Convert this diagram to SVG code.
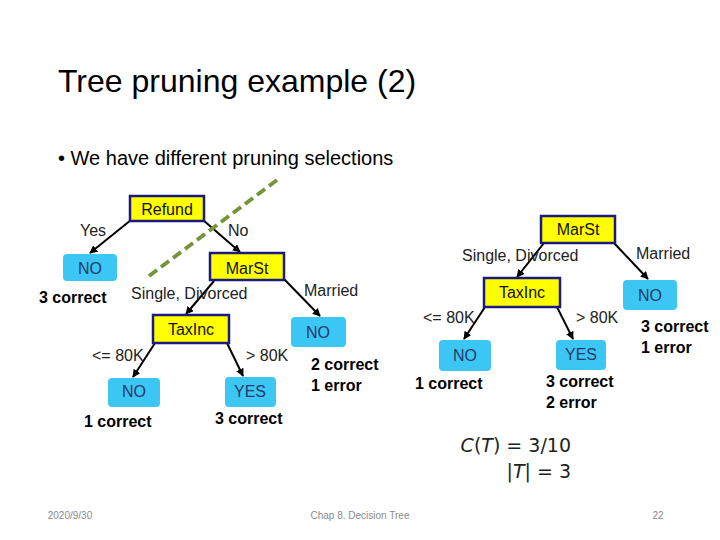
<svg xmlns="http://www.w3.org/2000/svg" width="720" height="540" viewBox="0 0 720 540">
<defs>
<marker id="ah" viewBox="0 0 10 10" refX="9" refY="5" markerWidth="4" markerHeight="4" orient="auto" markerUnits="strokeWidth">
<path d="M0,0 L10,5 L0,10 z" fill="#000"/>
</marker>
<style>
text{font-family:"Liberation Sans",Arial,sans-serif;}
.dec{fill:#FFFF00;stroke:#1A1A80;stroke-width:2.5;}
.leaf{fill:#3CC6F4;stroke:none;}
.nt{font-size:16px;fill:#111;text-anchor:middle;}
.lt{font-size:16px;fill:#233a66;text-anchor:middle;}
.el{font-size:16px;fill:#222;}
.cnt{font-size:16px;font-weight:bold;fill:#000;}
.edge{stroke:#000;stroke-width:2;fill:none;marker-end:url(#ah);}
.foot{font-size:10px;fill:#8a8a8a;}
.math{font-family:"DejaVu Sans","Liberation Sans",sans-serif;font-size:19px;fill:#222;}
</style>
</defs>
<rect width="720" height="540" fill="#fff"/>
<text x="58" y="92" font-size="32" fill="#000">Tree pruning example (2)</text>
<text x="58" y="165" font-size="20" fill="#000">• We have different pruning selections</text>

<g id="connectors">
<line class="edge" x1="131" y1="220" x2="90" y2="253"/>
<line class="edge" x1="203" y1="220" x2="240" y2="252"/>
<line class="edge" x1="214" y1="281" x2="186" y2="314"/>
<line class="edge" x1="284" y1="279" x2="320" y2="316"/>
<line class="edge" x1="155" y1="343" x2="133" y2="377"/>
<line class="edge" x1="227" y1="343" x2="243" y2="376"/>
<line class="edge" x1="544" y1="243" x2="517" y2="277"/>
<line class="edge" x1="614" y1="243" x2="648" y2="279"/>
<line class="edge" x1="485" y1="307" x2="464" y2="339"/>
<line class="edge" x1="557" y1="307" x2="573" y2="339"/>
<line x1="149" y1="276" x2="277" y2="180" stroke="#77933C" stroke-width="4" stroke-dasharray="10,5"/>
</g>

<g id="edge-labels">
<text class="el" x="80" y="236">Yes</text>
<text class="el" x="228" y="236">No</text>
<text class="el" x="131" y="299">Single, Divorced</text>
<text class="el" x="304" y="296">Married</text>
<text class="el" x="92" y="361">&lt;= 80K</text>
<text class="el" x="246" y="361">&gt; 80K</text>
<text class="el" x="462" y="261">Single, Divorced</text>
<text class="el" x="636" y="259">Married</text>
<text class="el" x="423" y="323">&lt;= 80K</text>
<text class="el" x="576" y="323">&gt; 80K</text>
</g>

<g id="refund"><rect class="dec" x="130" y="196" width="74" height="25"/><text class="nt" x="167" y="215">Refund</text></g>
<g id="leaf-no-1"><rect class="leaf" x="63" y="254" width="54" height="27" rx="4"/><text class="lt" x="90" y="274">NO</text></g>
<g id="marst-1"><rect class="dec" x="210" y="253" width="74" height="27"/><text class="nt" x="247" y="274">MarSt</text></g>
<g id="taxinc-1"><rect class="dec" x="153" y="315" width="76" height="28"/><text class="nt" x="191" y="335">TaxInc</text></g>
<g id="leaf-no-2"><rect class="leaf" x="291" y="317" width="55" height="30" rx="4"/><text class="lt" x="318" y="338">NO</text></g>
<g id="leaf-no-3"><rect class="leaf" x="108" y="378" width="52" height="29" rx="4"/><text class="lt" x="134" y="397">NO</text></g>
<g id="leaf-yes-1"><rect class="leaf" x="225" y="377" width="51" height="30" rx="4"/><text class="lt" x="250" y="397">YES</text></g>

<g id="marst-2"><rect class="dec" x="541" y="216" width="74" height="27"/><text class="nt" x="578" y="235">MarSt</text></g>
<g id="taxinc-2"><rect class="dec" x="484" y="278" width="76" height="29"/><text class="nt" x="522" y="298">TaxInc</text></g>
<g id="leaf-no-4"><rect class="leaf" x="623" y="280" width="54" height="30" rx="4"/><text class="lt" x="650" y="301">NO</text></g>
<g id="leaf-no-5"><rect class="leaf" x="439" y="340" width="52" height="31" rx="4"/><text class="lt" x="465" y="361">NO</text></g>
<g id="leaf-yes-2"><rect class="leaf" x="556" y="340" width="50" height="30" rx="4"/><text class="lt" x="581" y="360">YES</text></g>

<g id="counts">
<text class="cnt" x="39" y="303">3 correct</text>
<text class="cnt" x="311" y="370">2 correct</text>
<text class="cnt" x="311" y="391">1 error</text>
<text class="cnt" x="84" y="427">1 correct</text>
<text class="cnt" x="215" y="424">3 correct</text>
<text class="cnt" x="641" y="332">3 correct</text>
<text class="cnt" x="641" y="353">1 error</text>
<text class="cnt" x="415" y="389">1 correct</text>
<text class="cnt" x="546" y="387">3 correct</text>
<text class="cnt" x="546" y="408">2 error</text>
</g>

<g id="formula">
<text class="math" x="571" y="452" text-anchor="end"><tspan font-style="italic">C</tspan>(<tspan font-style="italic">T</tspan>) = 3/10</text>
<text class="math" x="571" y="478" text-anchor="end">|<tspan font-style="italic">T</tspan>| = 3</text>
</g>

<g id="footer">
<text class="foot" x="70" y="519" text-anchor="middle">2020/9/30</text>
<text class="foot" x="360" y="519" text-anchor="middle">Chap 8. Decision Tree</text>
<text class="foot" x="658" y="519" text-anchor="middle">22</text>
</g>
</svg>
